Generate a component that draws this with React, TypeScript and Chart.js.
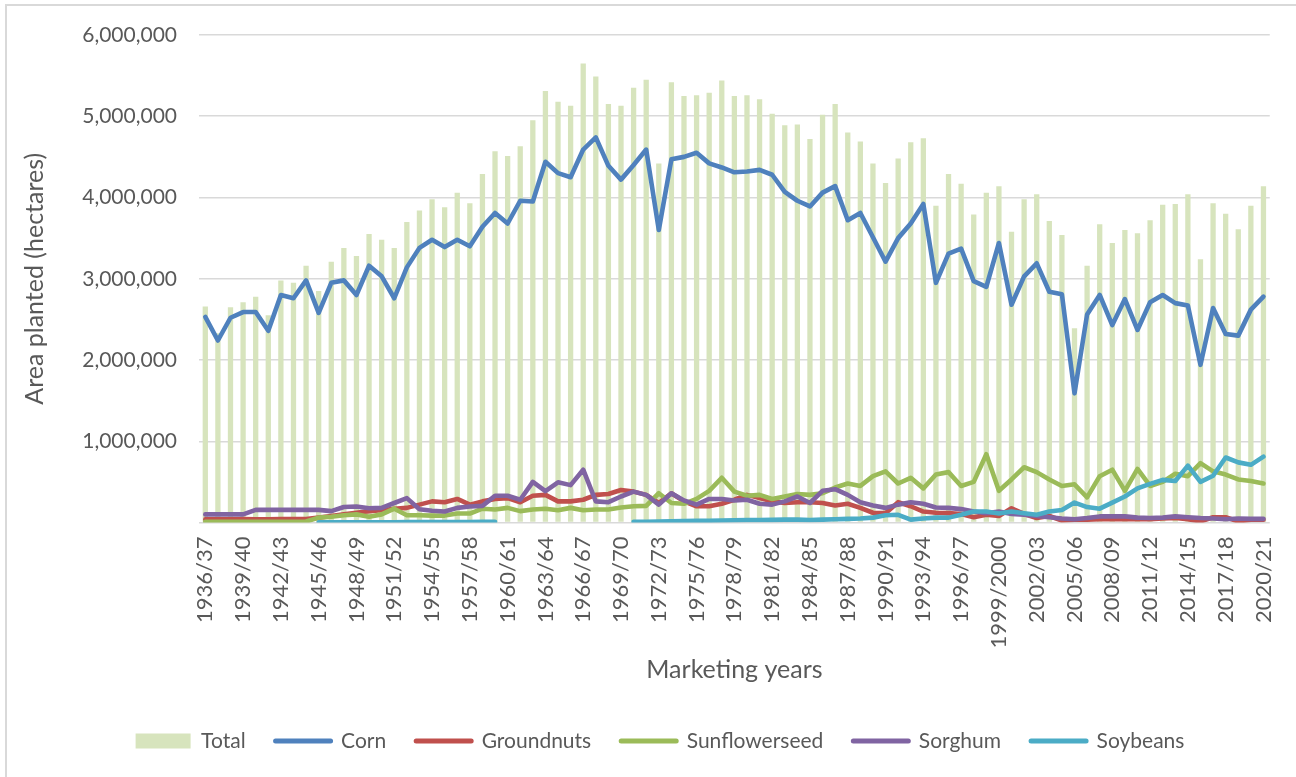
import React, { useEffect, useRef } from "react";
import { Chart, registerables } from "chart.js";

Chart.register(...registerables);

const categories: string[] = [
  "1936/37", "1937/38", "1938/39", "1939/40", "1940/41", "1941/42", "1942/43", "1943/44", "1944/45", "1945/46",
  "1946/47", "1947/48", "1948/49", "1949/50", "1950/51", "1951/52", "1952/53", "1953/54", "1954/55", "1955/56",
  "1956/57", "1957/58", "1958/59", "1959/60", "1960/61", "1961/62", "1962/63", "1963/64", "1964/65", "1965/66",
  "1966/67", "1967/68", "1968/69", "1969/70", "1970/71", "1971/72", "1972/73", "1973/74", "1974/75", "1975/76",
  "1976/77", "1977/78", "1978/79", "1979/80", "1980/81", "1981/82", "1982/83", "1983/84", "1984/85", "1985/86",
  "1986/87", "1987/88", "1988/89", "1989/90", "1990/91", "1991/92", "1992/93", "1993/94", "1994/95", "1995/96",
  "1996/97", "1997/98", "1998/99", "1999/2000", "2000/01", "2001/02", "2002/03", "2003/04", "2004/05", "2005/06",
  "2006/07", "2007/08", "2008/09", "2009/10", "2010/11", "2011/12", "2012/13", "2013/14", "2014/15", "2015/16",
  "2016/17", "2017/18", "2018/19", "2019/20", "2020/21",
];

const totalArea: number[] = [
  2660000, 2330000, 2650000, 2710000, 2780000, 2550000, 2980000, 2950000, 3160000, 2850000,
  3210000, 3380000, 3280000, 3550000, 3480000, 3380000, 3700000, 3840000, 3980000, 3880000,
  4060000, 3930000, 4290000, 4570000, 4510000, 4630000, 4950000, 5310000, 5180000, 5130000,
  5650000, 5490000, 5150000, 5130000, 5350000, 5450000, 4420000, 5420000, 5250000, 5260000,
  5290000, 5440000, 5250000, 5260000, 5210000, 5030000, 4890000, 4900000, 4720000, 5020000,
  5150000, 4800000, 4690000, 4420000, 4180000, 4480000, 4680000, 4730000, 3900000, 4290000,
  4170000, 3790000, 4060000, 4140000, 3580000, 3980000, 4040000, 3710000, 3540000, 2390000,
  3160000, 3670000, 3440000, 3600000, 3560000, 3720000, 3910000, 3920000, 4040000, 3240000,
  3930000, 3800000, 3610000, 3900000, 4140000,
];

const corn: number[] = [
  2530000, 2240000, 2520000, 2590000, 2590000, 2360000, 2800000, 2760000, 2980000, 2580000,
  2950000, 2980000, 2800000, 3160000, 3030000, 2760000, 3140000, 3380000, 3480000, 3390000,
  3480000, 3400000, 3640000, 3810000, 3680000, 3960000, 3950000, 4440000, 4300000, 4250000,
  4590000, 4740000, 4390000, 4220000, 4400000, 4590000, 3600000, 4470000, 4500000, 4550000,
  4420000, 4370000, 4310000, 4320000, 4340000, 4280000, 4070000, 3960000, 3890000, 4060000,
  4140000, 3720000, 3810000, 3510000, 3210000, 3500000, 3680000, 3920000, 2950000, 3310000,
  3370000, 2970000, 2900000, 3440000, 2680000, 3030000, 3190000, 2840000, 2810000, 1590000,
  2560000, 2800000, 2430000, 2750000, 2370000, 2710000, 2800000, 2700000, 2670000, 1940000,
  2640000, 2320000, 2300000, 2620000, 2780000,
];

const groundnuts: number[] = [
  38000, 40000, 40000, 42000, 40000, 40000, 41000, 42000, 43000, 60000,
  80000, 100000, 120000, 140000, 150000, 170000, 180000, 220000, 260000, 250000,
  290000, 220000, 260000, 290000, 300000, 250000, 330000, 340000, 260000, 260000,
  280000, 340000, 350000, 400000, 380000, 340000, 240000, 360000, 260000, 200000,
  200000, 230000, 280000, 340000, 300000, 260000, 240000, 250000, 250000, 240000,
  210000, 230000, 180000, 120000, 115000, 250000, 200000, 135000, 120000, 115000,
  105000, 65000, 95000, 80000, 175000, 105000, 55000, 80000, 25000, 35000,
  35000, 40000, 40000, 40000, 40000, 40000, 50000, 55000, 40000, 13000,
  65000, 65000, 13000, 35000, 35000,
];

const sunflowerseed: number[] = [
  8000, 8000, 9000, 9000, 10000, 10000, 10000, 10000, 12000, 60000,
  70000, 90000, 100000, 70000, 100000, 170000, 90000, 90000, 85000, 85000,
  110000, 110000, 170000, 160000, 180000, 140000, 160000, 170000, 150000, 180000,
  150000, 160000, 160000, 185000, 200000, 205000, 360000, 240000, 230000, 290000,
  390000, 550000, 380000, 330000, 340000, 290000, 320000, 350000, 340000, 360000,
  430000, 480000, 450000, 570000, 630000, 480000, 550000, 420000, 590000, 620000,
  450000, 500000, 840000, 390000, 530000, 680000, 620000, 530000, 450000, 470000,
  310000, 570000, 650000, 390000, 660000, 450000, 500000, 600000, 570000, 730000,
  630000, 590000, 530000, 510000, 480000,
];

const sorghum: number[] = [
  100000, 100000, 100000, 100000, 155000, 155000, 155000, 155000, 155000, 155000,
  140000, 190000, 197000, 176000, 180000, 240000, 300000, 164000, 144000, 135000,
  180000, 197000, 205000, 330000, 330000, 280000, 500000, 385000, 495000, 460000,
  650000, 260000, 250000, 320000, 380000, 340000, 220000, 360000, 270000, 220000,
  290000, 290000, 270000, 280000, 230000, 220000, 260000, 320000, 240000, 390000,
  410000, 340000, 250000, 210000, 180000, 220000, 250000, 230000, 185000, 180000,
  165000, 135000, 115000, 135000, 105000, 95000, 80000, 65000, 50000, 40000,
  55000, 75000, 75000, 75000, 60000, 55000, 60000, 75000, 65000, 55000,
  50000, 40000, 50000, 45000, 45000,
];

const soybeans: (number | null)[] = [
  null, null, null, null, null, null, null, null, null, 2000,
  2000, 3000, 3000, 3000, 4000, 4000, 5000, 5000, 6000, 6000,
  7000, 7000, 8000, 8000, null, null, null, null, null, null,
  null, null, null, null, 10000, 10000, 12000, 15000, 18000, 20000,
  22000, 25000, 28000, 30000, 30000, 32000, 35000, 35000, 30000, 35000,
  40000, 45000, 50000, 60000, 90000, 95000, 35000, 50000, 60000, 60000,
  95000, 135000, 135000, 110000, 135000, 115000, 95000, 135000, 155000, 245000,
  190000, 170000, 245000, 320000, 420000, 475000, 525000, 510000, 700000, 500000,
  575000, 800000, 740000, 710000, 810000,
];

const TEXT = "#595959";
const FONT = "Lato";

export default function App() {
  const ref = useRef<HTMLCanvasElement>(null);

  useEffect(() => {
    document.body.style.margin = "0";
    const canvas = ref.current;
    if (!canvas) return;
    const lineDs = (label: string, data: (number | null)[], color: string, order: number) => ({
      type: "line" as const,
      label,
      data,
      borderColor: color,
      backgroundColor: color,
      borderWidth: 4.6,
      pointRadius: 0,
      pointHoverRadius: 0,
      tension: 0,
      fill: false,
      spanGaps: false,
      borderJoinStyle: "round" as const,
      borderCapStyle: "round" as const,
      order,
    });

    const chart = new Chart(canvas, {
      type: "bar",
      data: {
        labels: categories,
        datasets: [
          {
            type: "bar",
            label: "Total",
            data: totalArea,
            backgroundColor: "#d7e4bd",
            borderWidth: 0,
            barPercentage: 0.42,
            categoryPercentage: 1.0,
            order: 10,
          } as any,
          lineDs("Corn", corn, "#4f81bd", 5),
          lineDs("Groundnuts", groundnuts, "#c0504d", 4),
          lineDs("Sunflowerseed", sunflowerseed, "#9bbb59", 3),
          lineDs("Sorghum", sorghum, "#8064a2", 2),
          lineDs("Soybeans", soybeans, "#4bacc6", 1),
        ],
      },
      options: {
        responsive: false,
        animation: false,
        devicePixelRatio: 1,
        layout: { padding: { top: 35, right: 24, bottom: 15.5, left: 48 } },
        plugins: {
          tooltip: { enabled: false },
          legend: {
            position: "bottom",
            labels: {
              usePointStyle: true,
              pointStyleWidth: 55,
              boxHeight: 15,
              padding: 30,
              color: TEXT,
              font: { family: FONT, size: 21 },
              sort: (a: any, b: any) => a.datasetIndex - b.datasetIndex,
              generateLabels: (ch: any) => {
                const items = (Chart.defaults.plugins.legend.labels as any).generateLabels(ch);
                return items.map((it: any) => {
                  const ds: any = ch.data.datasets[it.datasetIndex];
                  if (ds.type === "bar") {
                    return { ...it, pointStyle: "rect", lineWidth: 0, fillStyle: "#d7e4bd", strokeStyle: "#d7e4bd" };
                  }
                  return {
                    ...it,
                    pointStyle: "line",
                    lineWidth: 5,
                    lineCap: "round",
                    strokeStyle: ds.borderColor,
                    fillStyle: ds.borderColor,
                  };
                });
              },
            },
          },
        },
        scales: {
          x: {
            offset: true,
            grid: { display: false },
            border: { display: false },
            ticks: {
              autoSkip: false,
              maxRotation: 90,
              minRotation: 90,
              padding: 6,
              color: TEXT,
              font: { family: FONT, size: 22 },
              callback: (_v: any, i: number) => (i % 3 === 0 ? categories[i] : ""),
            },
            title: {
              display: true,
              text: "Marketing years",
              color: TEXT,
              font: { family: FONT, size: 25 },
              padding: { top: 0, bottom: 15.5 },
            },
            afterFit: (s: any) => {
              s.height = 178;
            },
          },
          y: {
            min: 0,
            max: 6000000,
            ticks: {
              stepSize: 1000000,
              padding: 22,
              color: TEXT,
              font: { family: FONT, size: 21 },
              callback: (v: any) => (v === 0 ? "" : Number(v).toLocaleString("en-US")),
            },
            grid: { color: "#d9d9d9", lineWidth: 1.5, drawTicks: false },
            border: { display: false },
            title: {
              display: true,
              text: "Area planted (hectares)",
              color: TEXT,
              font: { family: FONT, size: 25 },
              padding: { top: -28, bottom: 0 },
            },
            afterFit: (s: any) => {
              s.width = 151;
            },
          },
        },
      } as any,
    });
    return () => chart.destroy();
  }, []);

  return (
    <div style={{ position: "relative", width: 1296, height: 777, overflow: "hidden", background: "#fff" }}>
      <canvas ref={ref} width={1296} height={777} style={{ position: "absolute", left: 0, top: 0 }} />
      <div
        style={{
          position: "absolute",
          left: 5,
          top: 4,
          width: 1320,
          height: 800,
          border: "2px solid #d9d9d9",
          boxSizing: "border-box",
          pointerEvents: "none",
        }}
      />
    </div>
  );
}
